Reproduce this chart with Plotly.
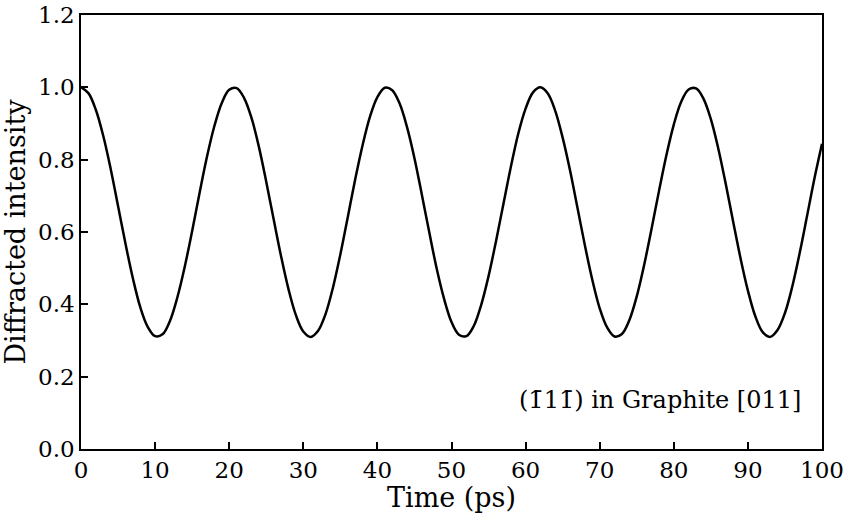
import plotly.graph_objects as go

time_ps = list(range(0, 101))
intensity = [
    1.000, 0.984, 0.938, 0.866, 0.775, 0.672, 0.568, 0.472, 0.392, 0.338,
    0.312, 0.317, 0.354, 0.419, 0.504, 0.603, 0.708, 0.808, 0.893, 0.957,
    0.993, 0.998, 0.971, 0.916, 0.836, 0.739, 0.635, 0.533, 0.442, 0.370,
    0.325, 0.310, 0.327, 0.373, 0.446, 0.538, 0.641, 0.745, 0.840, 0.919,
    0.973, 0.999, 0.992, 0.955, 0.890, 0.804, 0.703, 0.599, 0.499, 0.415,
    0.351, 0.316, 0.312, 0.340, 0.398, 0.478, 0.574, 0.677, 0.779, 0.871,
    0.941, 0.986, 1.000, 0.983, 0.935, 0.861, 0.770, 0.667, 0.563, 0.468,
    0.389, 0.336, 0.311, 0.318, 0.356, 0.422, 0.509, 0.609, 0.713, 0.812,
    0.897, 0.960, 0.994, 0.997, 0.969, 0.912, 0.831, 0.734, 0.630, 0.528,
    0.438, 0.367, 0.323, 0.310, 0.329, 0.376, 0.450, 0.543, 0.646, 0.750,
    0.844,
]
x_ticks = [0, 10, 20, 30, 40, 50, 60, 70, 80, 90, 100]
y_ticks = [0.0, 0.2, 0.4, 0.6, 0.8, 1.0, 1.2]
label_text = "(1\u030411\u0304) in Graphite [011]"

font_family = "DejaVu Serif"

fig = go.Figure()
fig.add_trace(go.Scatter(
    x=time_ps, y=intensity, mode="lines",
    line=dict(color="black", width=2.5, shape="spline"),
    showlegend=False, hoverinfo="skip",
))

fig.add_annotation(
    x=97.4, y=0.135, xref="x", yref="y", text=label_text,
    showarrow=False, xanchor="right", yanchor="middle",
    font=dict(family=font_family, size=24, color="black"),
)

axis_common = dict(
    showgrid=False, zeroline=False, showline=True, linecolor="black",
    linewidth=1.5, mirror=True, ticks="inside", ticklen=7, tickwidth=1.5,
    tickcolor="black", tickfont=dict(family=font_family, size=23, color="black"),
    automargin=False,
)

fig.update_xaxes(
    range=[0, 100], tickvals=x_ticks, ticktext=[str(v) for v in x_ticks],
    title=dict(text="Time (ps)", font=dict(family=font_family, size=27, color="black"), standoff=14),
    **axis_common,
)
fig.update_yaxes(
    range=[0, 1.2], tickvals=y_ticks, ticktext=[f"{v:.1f}" for v in y_ticks],
    title=dict(text="Diffracted intensity", font=dict(family=font_family, size=27, color="black"), standoff=6),
    **axis_common,
)

fig.update_layout(
    width=846, height=513,
    margin=dict(l=81, r=24, t=15, b=64, autoexpand=False),
    paper_bgcolor="white", plot_bgcolor="white",
)

fig.write_html("out.html")
